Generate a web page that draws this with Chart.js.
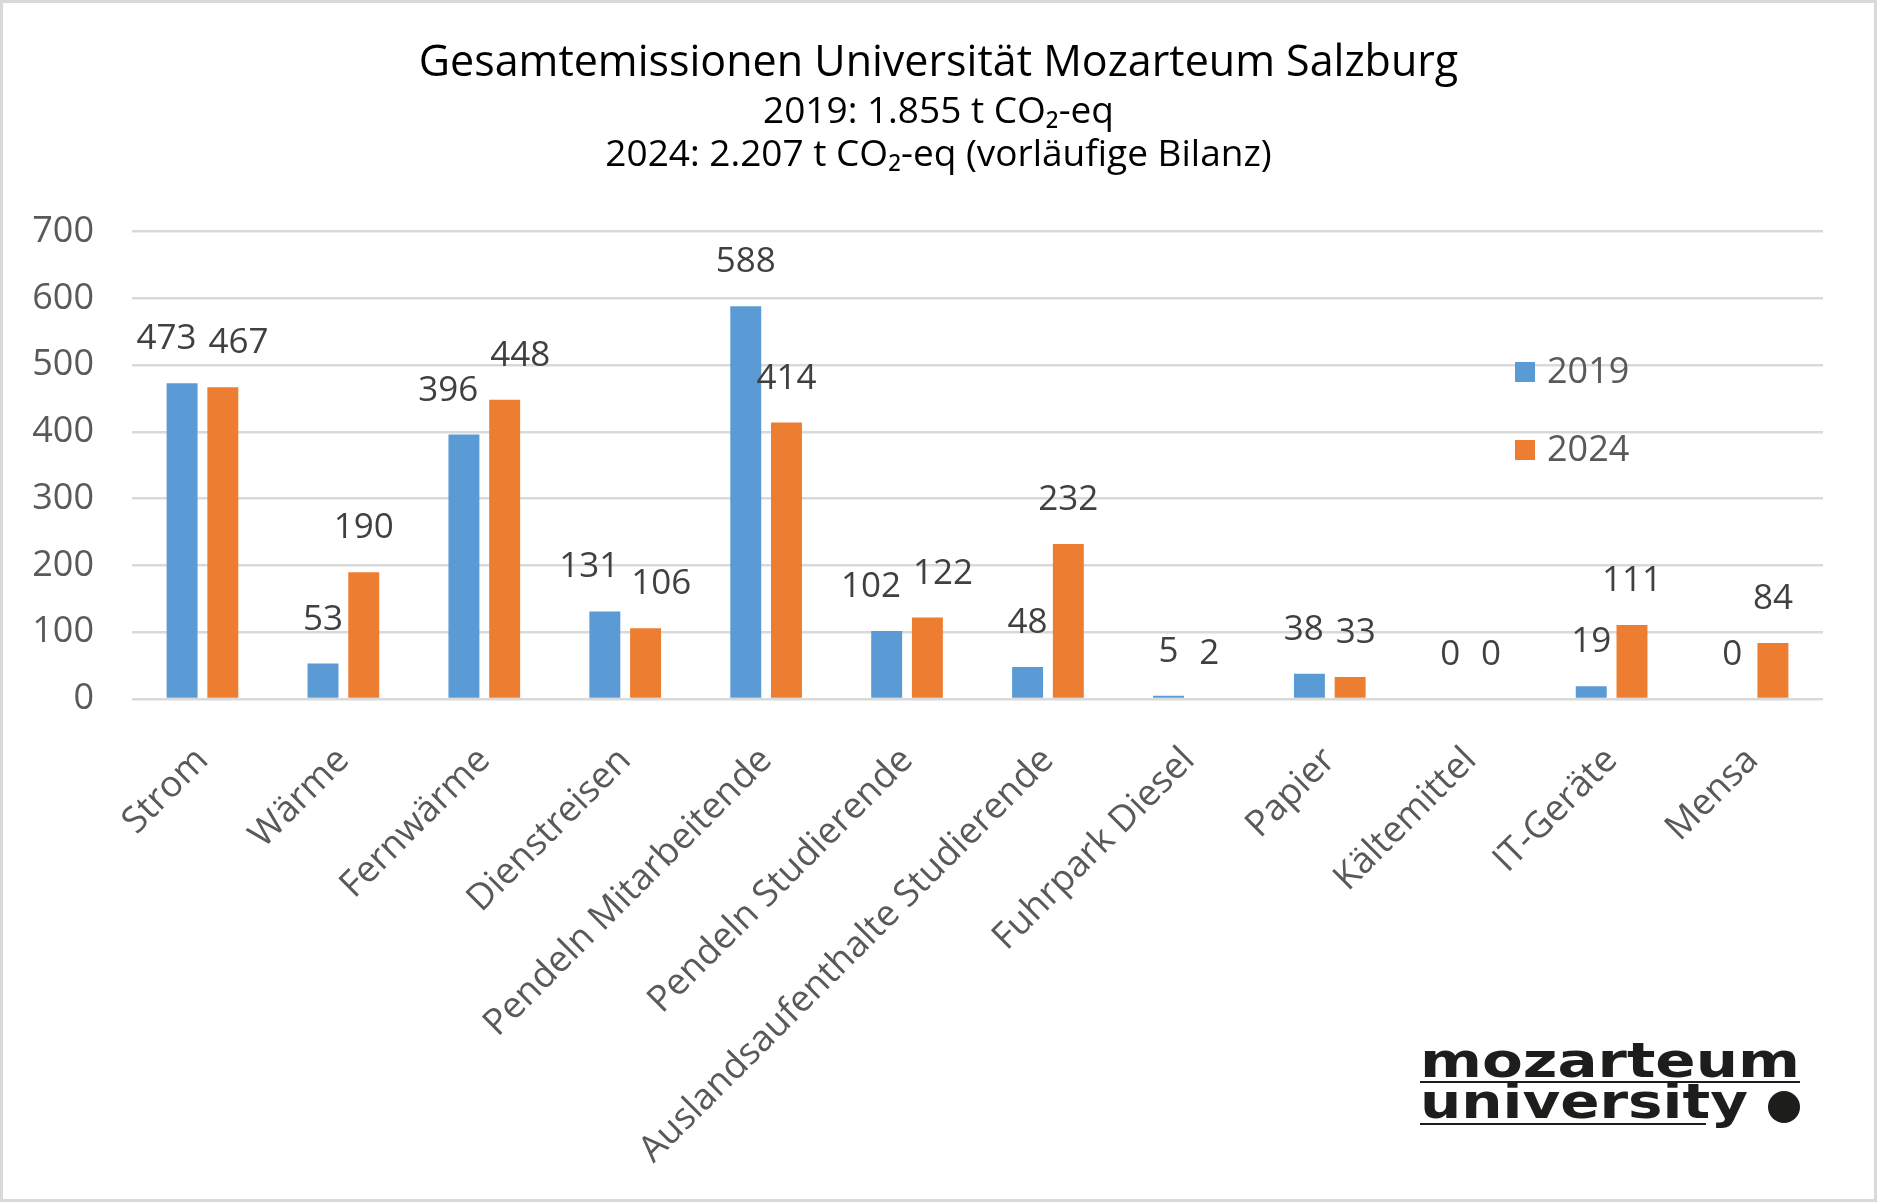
<!DOCTYPE html>
<html>
<head>
<meta charset="utf-8">
<script src="https://cdn.jsdelivr.net/npm/chart.js@4.4.1/dist/chart.umd.min.js"></script>
<style>
html, body { margin: 0; padding: 0; background: #fff; }
#wrap { position: relative; width: 1877px; height: 1202px; }
#frame { position: absolute; left: 0; top: 0; width: 1877px; height: 1202px; box-sizing: border-box; border: 3px solid #d9d9d9; pointer-events: none; }
</style>
</head>
<body>
<div id="wrap"><canvas id="barChart"></canvas><div id="frame"></div></div>
<script>
var categories = ['Strom', 'Wärme', 'Fernwärme', 'Dienstreisen', 'Pendeln Mitarbeitende', 'Pendeln Studierende',
    'Auslandsaufenthalte Studierende', 'Fuhrpark Diesel', 'Papier', 'Kältemittel', 'IT-Geräte', 'Mensa'];
var values2019 = [473, 53, 396, 131, 588, 102, 48, 5, 38, 0, 19, 0];
var values2024 = [467, 190, 448, 106, 414, 122, 232, 2, 33, 0, 111, 84];
var seriesNames = ['2019', '2024'];
var titleText = 'Gesamtemissionen Universität Mozarteum Salzburg';
var subtitleLines = ['2019: 1.855 t CO₂-eq', '2024: 2.207 t CO₂-eq (vorläufige Bilanz)'];
var logoLines = ['mozarteum', 'university'];

var textFont = "'Open Sans', sans-serif";

// number above every bar, pairs pushed apart when they would touch
var valueLabels = {
    id: 'valueLabels',
    afterDatasetsDraw: function (chart) {
        var ctx = chart.ctx;
        ctx.save();
        ctx.font = '35px ' + textFont;
        ctx.fillStyle = '#404040';
        ctx.textAlign = 'center';
        ctx.textBaseline = 'middle';
        var metaA = chart.getDatasetMeta(0).data;
        var metaB = chart.getDatasetMeta(1).data;
        var dsA = chart.data.datasets[0].data;
        var dsB = chart.data.datasets[1].data;
        categories.forEach(function (c, j) {
            var a = { t: String(dsA[j]), x: metaA[j].x, y: metaA[j].y - 44 };
            var b = { t: String(dsB[j]), x: metaB[j].x, y: metaB[j].y - 44 };
            var need = (ctx.measureText(a.t).width + ctx.measureText(b.t).width) / 2 + 12 - (b.x - a.x);
            if (need > 0 && Math.abs(a.y - b.y) < 40) {
                a.x -= need / 2;
                b.x += need / 2;
            }
            ctx.fillText(a.t, a.x, a.y);
            ctx.fillText(b.t, b.x, b.y);
        });
        ctx.restore();
    }
};

// legend sits inside the plot on the right
var insideLegend = {
    id: 'insideLegend',
    afterDraw: function (chart) {
        var ctx = chart.ctx;
        ctx.save();
        ctx.font = '36px ' + textFont;
        ctx.textBaseline = 'middle';
        chart.data.datasets.forEach(function (ds, i) {
            var y = 372 + i * 78;
            ctx.fillStyle = ds.backgroundColor;
            ctx.fillRect(1515, y - 10, 20, 20);
            ctx.fillStyle = '#595959';
            ctx.fillText(ds.label, 1547, y + 1);
        });
        ctx.restore();
    }
};

// university wordmark bottom right
var logo = {
    id: 'logo',
    afterDraw: function (chart) {
        var ctx = chart.ctx;
        ctx.save();
        ctx.fillStyle = '#1d1d1b';
        ctx.font = 'bold 48px "DejaVu Sans"';
        var rows = [{ y: 1077, w: 380, line: 380, ly: 1081 }, { y: 1118, w: 328, line: 286, ly: 1123 }];
        rows.forEach(function (r, i) {
            var tw = ctx.measureText(logoLines[i]).width;
            ctx.save();
            ctx.translate(1420, r.y);
            ctx.scale(r.w / tw, 1);
            ctx.fillText(logoLines[i], 0, 0);
            ctx.restore();
            ctx.fillRect(1420, r.ly, r.line, 2);
        });
        ctx.beginPath();
        ctx.arc(1784, 1107, 16, 0, Math.PI * 2);
        ctx.fill();
        ctx.restore();
    }
};

var ctx = document.getElementById('barChart').getContext('2d');
var myChart = new Chart(ctx, {
    type: 'bar',
    data: {
        labels: categories,
        datasets: [{
            label: seriesNames[0],
            data: values2019,
            backgroundColor: '#5b9bd5',
            barPercentage: 0.76,
            categoryPercentage: 0.578
        }, {
            label: seriesNames[1],
            data: values2024,
            backgroundColor: '#ed7d31',
            barPercentage: 0.76,
            categoryPercentage: 0.578
        }]
    },
    options: {
        responsive: true,
        maintainAspectRatio: false,
        animation: false,
        devicePixelRatio: 1,
        layout: { padding: 0 },
        plugins: {
            legend: { display: false },
            tooltip: { enabled: false },
            title: {
                display: true,
                text: titleText,
                color: '#000',
                font: { family: textFont, size: 43, weight: 'normal', lineHeight: 1.2 },
                padding: { top: 38, bottom: 1 }
            },
            subtitle: {
                display: true,
                text: subtitleLines,
                color: '#000',
                font: { family: textFont, size: 37, weight: 'normal', lineHeight: 1.162 },
                padding: { top: 0, bottom: 55 }
            }
        },
        scales: {
            x: {
                grid: { display: false },
                border: { display: false },
                ticks: {
                    color: '#595959',
                    font: { family: textFont, size: 36.5 },
                    minRotation: 45,
                    maxRotation: 45,
                    padding: 32
                },
                afterFit: function (scale) { scale.height = 503; }
            },
            y: {
                min: 0,
                max: 700,
                grid: { color: '#d9d9d9', lineWidth: 2.5, drawTicks: false },
                border: { display: false },
                ticks: {
                    stepSize: 100,
                    color: '#595959',
                    font: { family: textFont, size: 36 },
                    padding: 38
                },
                afterFit: function (scale) { scale.width = 132; }
            },
            // empty right margin so the title stays centred on the canvas
            yRight: {
                position: 'right',
                grid: { display: false },
                border: { display: false },
                ticks: { display: false },
                afterFit: function (scale) { scale.width = 54; }
            }
        }
    },
    plugins: [valueLabels, insideLegend, logo]
});
</script>
</body>
</html>
